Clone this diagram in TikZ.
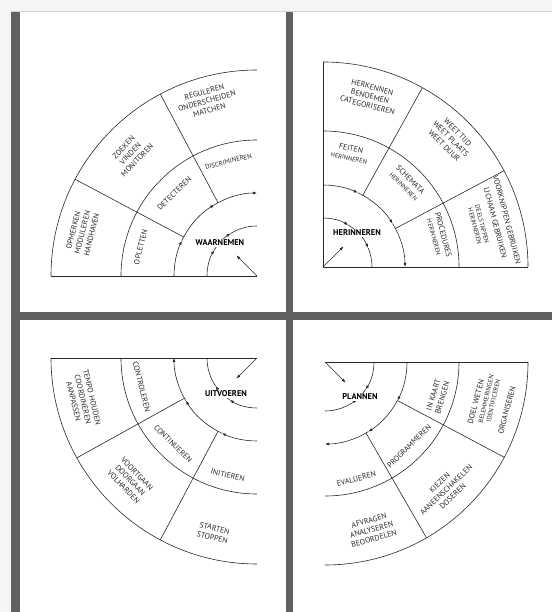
\documentclass[tikz,border=0pt]{standalone}
\usepackage{fontspec}
\setmainfont{PT Sans}
\usetikzlibrary{arrows.meta}
\definecolor{barcol}{RGB}{96,96,96}
\definecolor{inkcol}{RGB}{40,40,40}
\newcommand{\sm}{\fontsize{6.4}{7.4}\selectfont}
\begin{document}
\begin{tikzpicture}[x=1pt,y=1pt,
  ln/.style={line width=0.6pt, draw=inkcol},
  arr/.style={ln, -{Latex[length=4pt,width=3pt]}},
  lbl/.style={font=\fontsize{7.8}{9.4}\selectfont, text=inkcol, align=center, inner sep=0pt},
  slbl/.style={lbl, font=\fontsize{6.4}{7.4}\selectfont},
  big/.style={font=\bfseries\fontsize{8.4}{9.5}\selectfont, fill=white, inner sep=1pt, text=black},
  barfill/.style={fill=barcol, draw=none}]
\useasboundingbox (0,0) rectangle (552,612);
% background
\fill[white] (0,0) rectangle (552,612);
\fill[black!4] (0,600) rectangle (552,612);
\fill[black!4] (0,0) rectangle (11,600);
\draw[black!18, line width=1pt] (11,600) -- (552,600);
% bars
\fill[barfill] (11,0) rectangle (20,600);
\fill[barfill] (286,0) rectangle (293,600);
\fill[barfill] (20,292) rectangle (552,300);

% ---------- Q1 WAARNEMEN ----------
\begin{scope}[shift={(257,336)}]
\coordinate (c1) at (0,0);
\draw[ln] (-206,0) -- (c1);
\draw[ln] (180:136) arc[start angle=180,end angle=90,radius=136];
\draw[ln] (180:206) arc[start angle=180,end angle=90,radius=206];
\draw[ln] (118:83) -- (118:206);
\draw[ln] (152:83) -- (152:206);
\draw[arr] (180:83) arc[start angle=180,end angle=155,radius=83];
\draw[arr] (155:83) arc[start angle=155,end angle=121,radius=83];
\draw[arr] (121:83) arc[start angle=121,end angle=90,radius=83];
\draw[arr] (180:50) arc[start angle=180,end angle=149,radius=50];
\draw[arr] (149:50) arc[start angle=149,end angle=122,radius=50];
\draw[ln] (122:50) arc[start angle=122,end angle=90,radius=50];
\coordinate (d1) at (135:29);
\draw[arr] (c1) -- (d1);
\node[lbl, rotate=16] (q1a) at (106:182) {REGULEREN\\ONDERSCHEIDEN\\MATCHEN};
\node[lbl, rotate=46] (q1b) at (136:176) {ZOEKEN\\VINDEN\\MONITOREN};
\node[lbl, rotate=76] (q1c) at (166:180) {OPMERKEN\\MODULEREN\\HANDHAVEN};
\node[lbl, font=\fontsize{6.8}{8}\selectfont, rotate=14] (q1d) at (104:118) {DISCRIMINEREN};
\node[lbl, rotate=45] (q1e) at (135:117) {DETECTEREN};
\node[lbl, rotate=76] (q1f) at (166:120) {OPLETTEN};
\node[big] (q1g) at (-37,33) {WAARNEMEN};
\end{scope}

% ---------- Q2 HERINNEREN ----------
\begin{scope}[shift={(323,345)}]
\coordinate (c2) at (0,0);
\draw[ln] (c2) -- (205,0);
\draw[ln] (c2) -- (0,205);
\draw[ln] (90:136) arc[start angle=90,end angle=0,radius=136];
\draw[ln] (90:205) arc[start angle=90,end angle=0,radius=205];
\draw[ln] (61:82) -- (61:205);
\draw[ln] (28:82) -- (28:205);
\draw[arr] (90:82) arc[start angle=90,end angle=65,radius=82];
\draw[arr] (65:82) arc[start angle=65,end angle=32,radius=82];
\draw[arr] (32:82) arc[start angle=32,end angle=0,radius=82];
\draw[arr] (90:49) arc[start angle=90,end angle=59,radius=49];
\draw[arr] (59:49) arc[start angle=59,end angle=23,radius=49];
\draw[ln] (23:49) arc[start angle=23,end angle=0,radius=49];
\coordinate (d2) at (45:29);
\draw[arr] (c2) -- (d2);
\node[lbl, rotate=-15] (q2a) at (74.6:177) {HERKENNEN\\BENOEMEN\\CATEGORISEREN};
\node[lbl, rotate=-45] (q2b) at (45:181) {WEET TIJD\\WEET PLAATS\\WEET DUUR};
\node[lbl, rotate=-75.5] (q2c) at (14.4:190) {VOORKNIPPEN GEBRUIKEN};
\node[lbl, rotate=-75.5] (q2d) at (14.4:178) {LICHAAM GEBRUIKEN};
\node[slbl, rotate=-75] (q2e) at (15:161) {DEELSTAPPEN\\HERINNEREN};
\node[lbl, rotate=-13] (q2f) at (76.6:117) {FEITEN\\\sm HERINNEREN};
\node[lbl, rotate=-45] (q2g) at (45:119) {SCHEMATA\\\sm HERINNEREN};
\node[lbl, rotate=-75] (q2h) at (15:120) {PROCEDURES\\\sm HERINNEREN};
\node[big] (q2i) at (34,34) {HERINNEREN};
\end{scope}

% ---------- Q3 UITVOEREN ----------
\begin{scope}[shift={(257,254)}]
\coordinate (c3) at (0,0);
\draw[ln] (-206,0) -- (c3);
\draw[ln] (270:136) arc[start angle=270,end angle=180,radius=136];
\draw[ln] (270:206) arc[start angle=270,end angle=180,radius=206];
\draw[ln] (209:83) -- (209:206);
\draw[ln] (242:83) -- (242:206);
\draw[arr] (270:83) arc[start angle=270,end angle=245,radius=83];
\draw[arr] (245:83) arc[start angle=245,end angle=211,radius=83];
\draw[arr] (211:83) arc[start angle=211,end angle=180,radius=83];
\draw[arr] (270:50) arc[start angle=270,end angle=237,radius=50];
\draw[arr] (237:50) arc[start angle=237,end angle=214,radius=50];
\draw[ln] (214:50) arc[start angle=214,end angle=180,radius=50];
\coordinate (d3) at (225:29);
\draw[arr] (c3) -- (d3);
\node[lbl, rotate=-76.6] (q3a) at (193.4:179) {TEMPO HOUDEN\\COORDINEREN\\AANPASSEN};
\node[lbl, rotate=-46] (q3b) at (224:176) {VOORTGAAN\\DOORGAAN\\VOLHARDEN};
\node[lbl, rotate=-14] (q3c) at (256:180) {STARTEN\\STOPPEN};
\node[lbl, rotate=-76] (q3d) at (194:119) {CONTROLEREN};
\node[lbl, rotate=-44.4] (q3e) at (225.6:120) {CONTINUEREN};
\node[lbl, rotate=-14] (q3f) at (256:121) {INITIEREN};
\node[big] (q3g) at (-31,-36) {UITVOEREN};
\end{scope}

% ---------- Q4 PLANNEN ----------
\begin{scope}[shift={(325,250)}]
\coordinate (c4) at (0,0);
\draw[ln] (c4) -- (203,0);
\draw[ln] (0:134) arc[start angle=0,end angle=-90,radius=134];
\draw[ln] (0:203) arc[start angle=0,end angle=-90,radius=203];
\draw[ln] (-28:82) -- (-28:203);
\draw[ln] (-60:82) -- (-60:203);
\draw[arr] (0:82) arc[start angle=0,end angle=-28,radius=82];
\draw[arr] (-28:82) arc[start angle=-28,end angle=-58,radius=82];
\draw[arr] (-58:82) arc[start angle=-58,end angle=-90,radius=82];
\draw[arr] (0:49) arc[start angle=0,end angle=-34,radius=49];
\draw[arr] (-34:49) arc[start angle=-34,end angle=-57,radius=49];
\draw[ln] (-57:49) arc[start angle=-57,end angle=-90,radius=49];
\coordinate (d4) at (-45:29);
\draw[arr] (c4) -- (d4);
\node[lbl, rotate=75] (q4a) at (-14.8:156) {DOEL WETEN};
\node[slbl, rotate=77] (q4b) at (-13:169) {BELEMMERINGEN\\IDENTIFICEREN};
\node[lbl, rotate=75] (q4c) at (-14.8:188) {ORGANISEREN};
\node[lbl, rotate=73] (q4d) at (-17:118) {IN KAART\\BRENGEN};
\node[lbl, rotate=45] (q4e) at (-45:119) {PROGRAMMEREN};
\node[lbl, rotate=15] (q4f) at (-75:121) {EVALUEREN};
\node[lbl, rotate=43.5] (q4g) at (-46.5:176) {KIEZEN\\AANEENSCHAKELEN\\DOSEREN};
\node[lbl, rotate=15.5] (q4h) at (-74.5:174) {AFVRAGEN\\ANALYSEREN\\BEOORDELEN};
\node[big] (q4i) at (35,-35) {PLANNEN};
\end{scope}
\end{tikzpicture}
\end{document}
